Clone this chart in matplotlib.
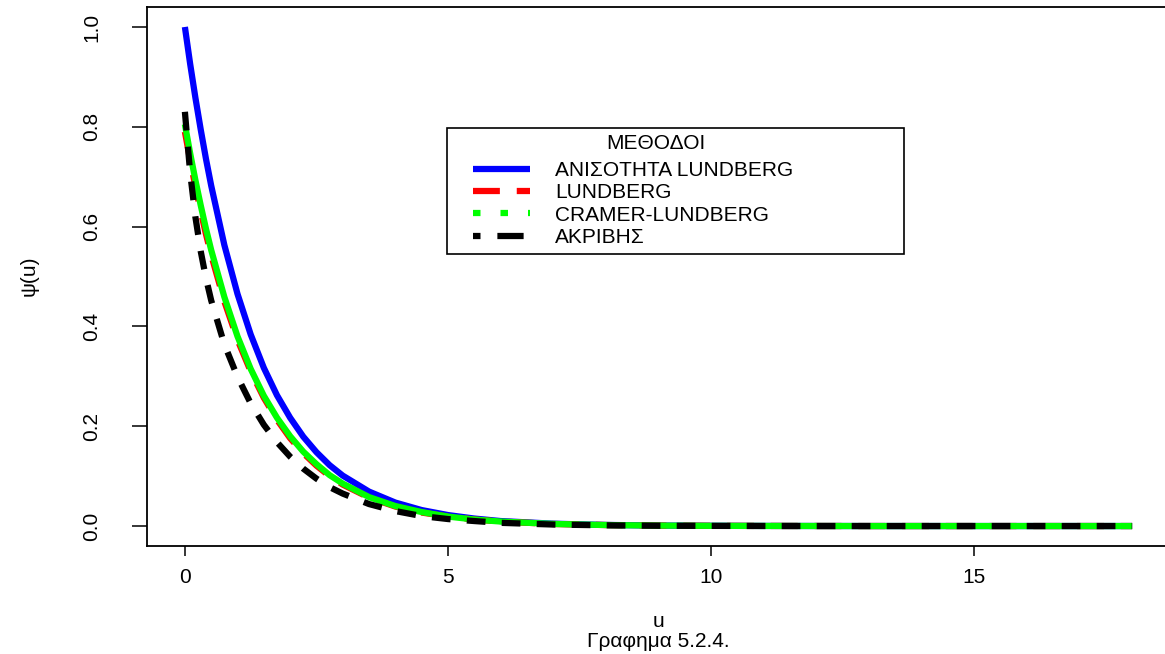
import numpy as np
import matplotlib
matplotlib.use("Agg")
import matplotlib.pyplot as plt
from matplotlib.lines import Line2D
from matplotlib.patches import Rectangle

plt.rcParams['font.family'] = ['Liberation Sans', 'DejaVu Sans']

# initial capital u
u = [0, 0.1, 0.2, 0.3, 0.4, 0.5, 0.75, 1, 1.25, 1.5, 1.75, 2, 2.25, 2.5, 2.75, 3,
     3.5, 4, 4.5, 5, 5.5, 6, 7, 8, 9, 10, 11, 12, 13, 14, 15, 16, 17, 18]

# ruin probability psi(u) per method
psi_ineq = [1.000, 0.926, 0.858, 0.795, 0.736, 0.682, 0.563, 0.465, 0.384, 0.317, 0.262,
            0.217, 0.179, 0.148, 0.122, 0.101, 0.069, 0.047, 0.032, 0.022, 0.015, 0.010,
            0.0047, 0.0022, 0.0010, 0.0005, 0.0002, 0.0001, 0, 0, 0, 0, 0, 0]
psi_lund = [0.790, 0.733, 0.680, 0.631, 0.585, 0.543, 0.450, 0.373, 0.310, 0.257, 0.213,
            0.176, 0.146, 0.121, 0.100, 0.083, 0.057, 0.039, 0.027, 0.019, 0.013, 0.009,
            0.0041, 0.0020, 0.0009, 0.0004, 0.0002, 0.0001, 0, 0, 0, 0, 0, 0]
psi_cramer = [0.805, 0.747, 0.693, 0.643, 0.596, 0.553, 0.459, 0.380, 0.315, 0.261, 0.217,
              0.180, 0.149, 0.124, 0.102, 0.085, 0.058, 0.040, 0.028, 0.019, 0.013, 0.009,
              0.0042, 0.0020, 0.0009, 0.0004, 0.0002, 0.0001, 0, 0, 0, 0, 0, 0]
psi_exact = [0.830, 0.708, 0.619, 0.551, 0.497, 0.452, 0.364, 0.299, 0.246, 0.203, 0.168,
             0.139, 0.115, 0.095, 0.078, 0.065, 0.044, 0.030, 0.020, 0.014, 0.010, 0.0064,
             0.0030, 0.0014, 0.0006, 0.0003, 0.0001, 0, 0, 0, 0, 0, 0, 0]

labels = ["ΑΝΙΣΟΤΗΤΑ LUNDBERG", "LUNDBERG", "CRAMER-LUNDBERG", "ΑΚΡΙΒΗΣ"]

W, H = 1165, 654
fig = plt.figure(figsize=(W / 100, H / 100), dpi=100)
# right edge of the box falls just outside the canvas
ax = fig.add_axes([147 / W, 108 / H, (1170 - 147) / W, (647 - 108) / H])

lw = 4.5
ax.plot(u, psi_ineq, color='blue', lw=lw, solid_capstyle='butt')
ax.plot(u, psi_lund, color='red', lw=lw, linestyle=(0, (4.3, 2.7)), dash_capstyle='butt')
ax.plot(u, psi_cramer, color='#00ff00', lw=lw, solid_capstyle='butt')
ax.plot(u, psi_exact, color='black', lw=lw, linestyle=(0, (3.0, 2.6)), dash_capstyle='butt')

ax.set_xlim(-0.72, 18.72)
ax.set_ylim(-0.04, 1.04)
ax.set_xticks([0, 5, 10, 15])
ax.set_yticks([0.0, 0.2, 0.4, 0.6, 0.8, 1.0])
ax.set_yticklabels(["0.0", "0.2", "0.4", "0.6", "0.8", "1.0"])
ax.spines['right'].set_visible(False)
for s in ax.spines.values():
    s.set_linewidth(1.3)

ax.tick_params(axis='x', length=7, width=1.1, pad=9, labelsize=15, colors='black')
ax.tick_params(axis='y', length=11, width=1.1, pad=22, labelsize=15, colors='black')
for t in ax.get_yticklabels():
    t.set_rotation(90)
    t.set_va('center')

ax.set_xlabel("u", fontsize=15, labelpad=18)
fig.text(29 / W, 1 - 276 / H, "ψ(u)", rotation=90, ha='center', va='center', fontsize=15)
fig.text(658 / W, 1 - 647 / H, "Γραφημα 5.2.4.", ha='center', va='baseline', fontsize=15)

# legend: frame and title drawn separately
handles = [
    Line2D([], [], color='blue', lw=lw, solid_capstyle='butt'),
    Line2D([], [], color='red', lw=lw, linestyle=(0, (4.3, 2.7)), dash_capstyle='butt'),
    Line2D([], [], color='#00ff00', lw=lw, linestyle=(0, (1.2, 3.2)), dash_capstyle='butt'),
    Line2D([], [], color='black', lw=lw, linestyle=(3.0, (4.2, 2.7)), dash_capstyle='butt'),
]
leg = ax.legend(handles, labels, fontsize=15, frameon=False,
                loc='upper left', bbox_to_anchor=(473 / W, 1 - 161 / H),
                bbox_transform=fig.transFigure, borderaxespad=0, borderpad=0,
                handlelength=2.75, handletextpad=1.2, labelspacing=0.16)
fig.add_artist(Rectangle((447 / W, 1 - 254 / H), (904 - 447) / W, (254 - 128) / H,
                         transform=fig.transFigure, fill=False, ec='black', lw=1.2))
fig.text(656 / W, 1 - 143 / H, "ΜΕΘΟΔΟΙ", ha='center', va='center', fontsize=15)

fig.savefig("out.png", dpi=100)
